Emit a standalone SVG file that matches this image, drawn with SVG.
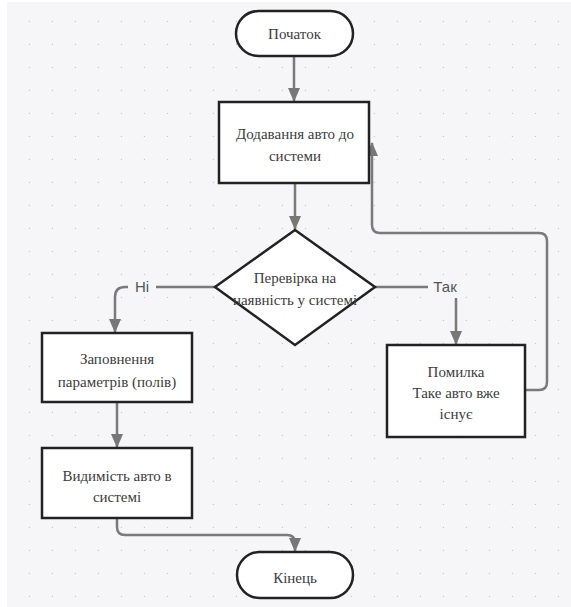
<svg xmlns="http://www.w3.org/2000/svg" width="571" height="607" viewBox="0 0 571 607">
<defs>
<pattern id="dots" x="0" y="0" width="23" height="23" patternUnits="userSpaceOnUse" patternTransform="translate(7 -1)">
<circle cx="23" cy="23" r="1.3" fill="#c8c8ce"/>
</pattern>
<marker id="arr" viewBox="0 0 14 12" refX="13" refY="6" markerWidth="14" markerHeight="12" markerUnits="userSpaceOnUse" orient="auto">
<path d="M0,0 L14,6 L0,12 Z" fill="#777"/>
</marker>
<style>
.node{fill:#fff;stroke:#222;stroke-width:2.5}
.t{font-family:'Liberation Serif','Times New Roman',serif;font-size:15px;fill:#3c3c3c;text-anchor:middle}
.c{fill:none;stroke:#7a7a7a;stroke-width:2.5;marker-end:url(#arr)}
.lbl{font-family:'Liberation Sans',Arial,sans-serif;font-size:15px;fill:#555;text-anchor:middle}
</style>
</defs>
<rect x="0" y="0" width="571" height="607" fill="#fff"/>
<rect x="7" y="2" width="564" height="605" fill="#f6f6f8"/>
<rect x="7" y="2" width="564" height="605" fill="url(#dots)"/>

<g id="connectors">
<path class="c" d="M294,56 V101"/>
<path class="c" d="M295,183 V229"/>
<path class="c" d="M215,287 H125 Q115,287 115,297 V332"/>
<path class="c" d="M375,287 H456 V344"/>
<path class="c" d="M117,402 V447"/>
<path class="c" d="M117,518 V527 Q117,535 125,535 H287 Q295,535 295,543 V551"/>
<path class="c" d="M525,390 H539 Q547,390 547,382 V241 Q547,233 539,233 H380 Q372,233 372,225 V143"/>
<rect x="128" y="277" width="28" height="20" fill="#f6f6f8"/>
<text class="lbl" x="142" y="292">Ні</text>
<rect x="428" y="277" width="34" height="21" fill="#f6f6f8"/>
<text class="lbl" x="445" y="292">Так</text>
</g>

<g id="start">
<rect class="node" x="236" y="11" width="117" height="45" rx="22.5"/>
<text class="t" x="294.5" y="39">Початок</text>
</g>
<g id="add">
<rect class="node" x="219" y="102" width="150" height="81"/>
<text class="t" x="295" y="139">Додавання авто до</text>
<text class="t" x="295" y="161">системи</text>
</g>
<g id="check">
<polygon class="node" points="295,230 375,287 295,345 215,287"/>
<text class="t" x="295" y="283">Перевірка на</text>
<text class="t" x="295" y="305">наявність у системі</text>
</g>
<g id="fill">
<rect class="node" x="42" y="333" width="150" height="69"/>
<text class="t" x="117" y="364">Заповнення</text>
<text class="t" x="117" y="387">параметрів (полів)</text>
</g>
<g id="visible">
<rect class="node" x="42" y="448" width="150" height="70"/>
<text class="t" x="117" y="481">Видимість авто в</text>
<text class="t" x="117" y="502">системі</text>
</g>
<g id="error">
<rect class="node" x="387" y="345" width="138" height="92"/>
<text class="t" x="456" y="377">Помилка</text>
<text class="t" x="456" y="398">Таке авто вже</text>
<text class="t" x="456" y="419">існує</text>
</g>
<g id="end">
<rect class="node" x="237" y="552" width="116" height="46" rx="23"/>
<text class="t" x="295" y="583">Кінець</text>
</g>
</svg>
